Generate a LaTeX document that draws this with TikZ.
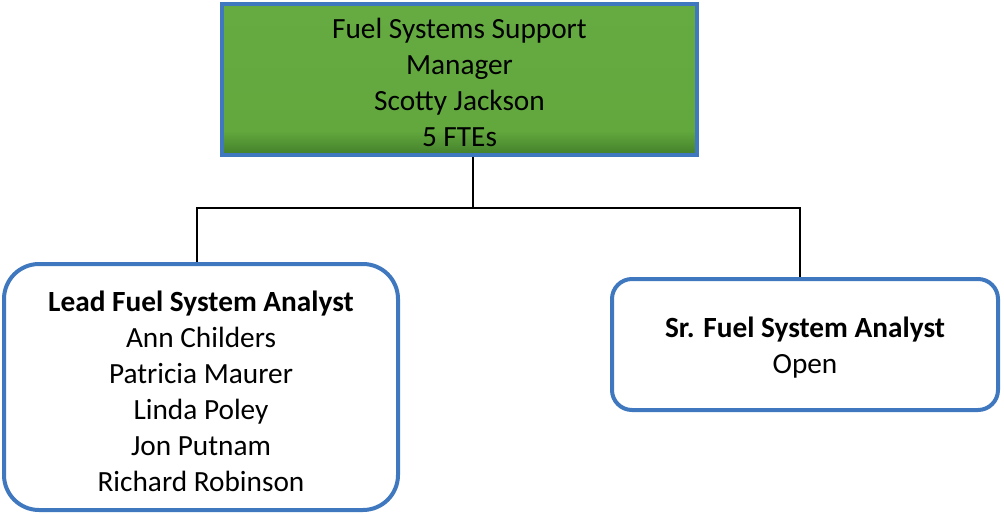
\documentclass[tikz,border=0pt]{standalone}
\usepackage{fontspec}
\setmainfont{Carlito}
\definecolor{edgeblue}{HTML}{3F78BE}
\definecolor{mgrgreen}{HTML}{62A83D}
\definecolor{mgrgreentop}{HTML}{66AB42}
\definecolor{mgrgreendark}{HTML}{437F2B}
% mostly flat green with a darker band along the bottom edge
\pgfdeclareverticalshading{mgrshade}{100bp}{%
  color(0bp)=(mgrgreendark); color(25bp)=(mgrgreendark);
  color(33bp)=(mgrgreen); color(75bp)=(mgrgreentop); color(100bp)=(mgrgreentop)}
\tikzset{
  orgtext/.style={align=center, font=\fontsize{29.3}{36}\selectfont, text=black, inner sep=0pt},
  mgrbox/.style={draw=edgeblue, line width=4pt, shading=mgrshade},
  staffbox/.style={draw=edgeblue, line width=4pt, fill=white},
  link/.style={draw=black, line width=2pt}
}
\begin{document}
\begin{tikzpicture}[x=1pt, y=-1pt]
  \useasboundingbox (0,0) rectangle (1004,514);
  \fill[white] (0,0) rectangle (1004,514);

  % manager
  \node[mgrbox, minimum width=475pt, minimum height=151pt] (mgr) at (459.5,79.5) {};
  \node[orgtext] (mgrtext) at ([yshift=-2.5pt]mgr.center)
    {Fuel Systems Support\\Manager\\Scotty Jackson\\5 FTEs};

  % direct reports
  \node[staffbox, rounded corners=35pt, minimum width=394pt, minimum height=246pt] (lead) at (201,387) {};
  \node[orgtext] (leadtext) at ([yshift=-4.5pt]lead.center)
    {\textbf{Lead Fuel System Analyst}\\Ann Childers\\Patricia Maurer\\Linda Poley\\Jon Putnam\\Richard Robinson};
  \node[staffbox, rounded corners=20pt, minimum width=386pt, minimum height=131pt] (sr) at (805,344.5) {};
  \node[orgtext] (srtext) at ([yshift=-3pt]sr.center)
    {\textbf{Sr. Fuel System Analyst}\\Open};

  % junction points on the horizontal bar
  \coordinate (j) at (473,208);
  \coordinate (jl) at (197,208);
  \coordinate (jr) at (800,208);

  % connectors
  \draw[link] (j |- mgr.south) -- (j);
  \draw[link] (jl |- lead.north) -- (jl) -- (jr) -- (jr |- sr.north);
\end{tikzpicture}
\end{document}
